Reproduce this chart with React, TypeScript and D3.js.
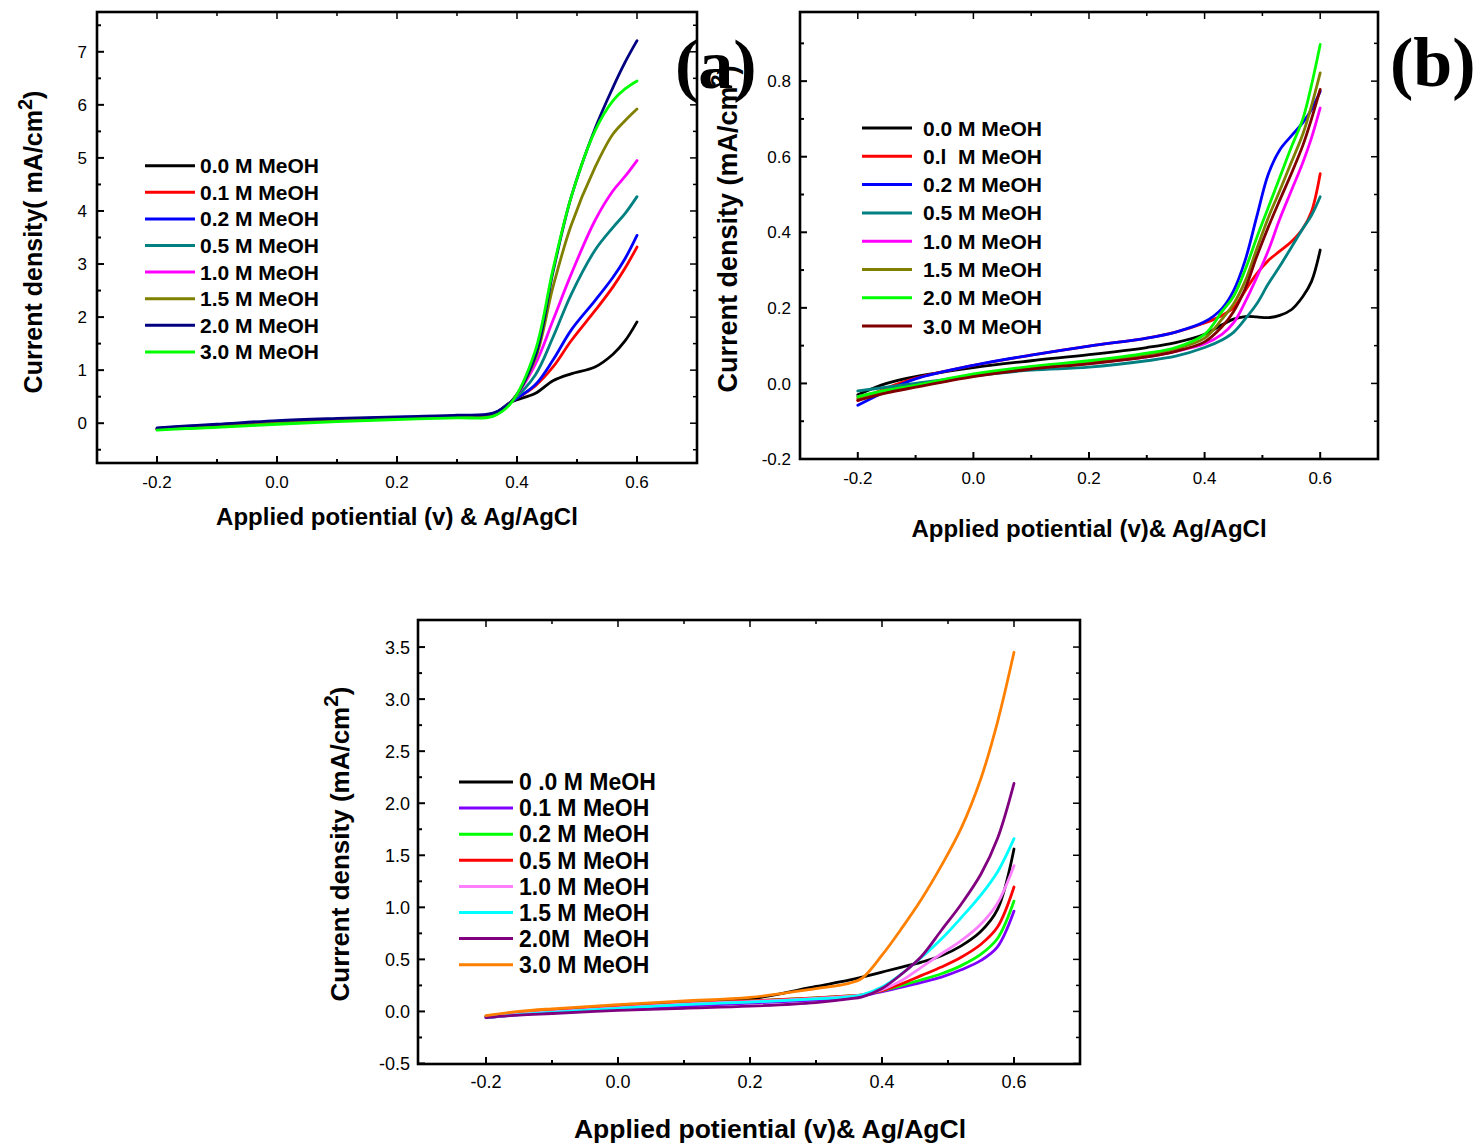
import React from 'react';
import * as d3 from 'd3';

const FONT = '"Liberation Sans", Arial, Helvetica, sans-serif';
const SERIF = '"Liberation Serif", "Times New Roman", serif';

// ---------- panel (a) ----------
const aPotential = [-0.2, -0.15, -0.1, 0.0, 0.1, 0.2, 0.3, 0.36, 0.39, 0.43, 0.46, 0.49, 0.53, 0.56, 0.58, 0.6];
const aLabels = ['0.0 M MeOH', '0.1 M MeOH', '0.2 M MeOH', '0.5 M MeOH', '1.0 M MeOH', '1.5 M MeOH', '2.0 M MeOH', '3.0 M MeOH'];
const aColors = ['#000000', '#ff0000', '#0000ff', '#008080', '#ff00ff', '#808000', '#000080', '#00ff00'];
const a00 = [-0.11, -0.07, -0.04, 0.02, 0.06, 0.1, 0.13, 0.17, 0.4, 0.56, 0.8, 0.93, 1.06, 1.3, 1.55, 1.91];
const a01 = [-0.11, -0.07, -0.04, 0.02, 0.06, 0.1, 0.13, 0.17, 0.4, 0.7, 1.06, 1.55, 2.12, 2.57, 2.92, 3.32];
const a02 = [-0.1, -0.06, -0.03, 0.03, 0.07, 0.11, 0.14, 0.18, 0.4, 0.72, 1.19, 1.75, 2.31, 2.75, 3.1, 3.54];
const a05 = [-0.11, -0.07, -0.04, 0.02, 0.06, 0.1, 0.13, 0.17, 0.4, 0.9, 1.62, 2.42, 3.26, 3.69, 3.95, 4.27];
const a10 = [-0.11, -0.07, -0.04, 0.02, 0.06, 0.1, 0.13, 0.16, 0.4, 1.1, 1.94, 2.8, 3.82, 4.38, 4.65, 4.95];
const a15 = [-0.12, -0.08, -0.05, 0.01, 0.05, 0.09, 0.12, 0.15, 0.4, 1.2, 2.57, 3.72, 4.82, 5.45, 5.7, 5.92];
const a20 = [-0.09, -0.05, -0.02, 0.05, 0.09, 0.12, 0.15, 0.19, 0.4, 1.25, 2.85, 4.25, 5.55, 6.33, 6.8, 7.21];
const a30 = [-0.13, -0.1, -0.08, -0.02, 0.03, 0.07, 0.1, 0.13, 0.38, 1.35, 2.9, 4.25, 5.51, 6.08, 6.3, 6.45];
const aXTicks = [-0.2, 0.0, 0.2, 0.4, 0.6];
const aXMinor = [-0.1, 0.1, 0.3, 0.5];
const aYTicks = [0, 1, 2, 3, 4, 5, 6, 7];
const aYMinor = [-0.5, 0.5, 1.5, 2.5, 3.5, 4.5, 5.5, 6.5, 7.5];

// ---------- panel (b) ----------
const bPotential = [-0.2, -0.15, -0.1, 0.0, 0.1, 0.2, 0.3, 0.35, 0.4, 0.43, 0.45, 0.47, 0.49, 0.51, 0.53, 0.55, 0.57, 0.585, 0.6];
const bLabels = ['0.0 M MeOH', '0.l  M MeOH', '0.2 M MeOH', '0.5 M MeOH', '1.0 M MeOH', '1.5 M MeOH', '2.0 M MeOH', '3.0 M MeOH'];
const bColors = ['#000000', '#ff0000', '#0000ff', '#008080', '#ff00ff', '#808000', '#00ff00', '#800000'];
const b00 = [-0.03, 0.0, 0.018, 0.042, 0.06, 0.076, 0.095, 0.108, 0.13, 0.155, 0.17, 0.177, 0.176, 0.174, 0.18, 0.195, 0.23, 0.27, 0.353];
const b01 = [-0.045, -0.012, 0.014, 0.048, 0.075, 0.099, 0.12, 0.136, 0.16, 0.18, 0.2, 0.245, 0.29, 0.325, 0.35, 0.375, 0.41, 0.455, 0.555];
const b02 = [-0.058, -0.02, 0.012, 0.048, 0.075, 0.099, 0.12, 0.136, 0.163, 0.198, 0.245, 0.325, 0.44, 0.553, 0.618, 0.655, 0.69, 0.725, 0.773];
const b05 = [-0.02, -0.01, 0.0, 0.02, 0.035, 0.043, 0.06, 0.072, 0.095, 0.115, 0.135, 0.17, 0.21, 0.263, 0.31, 0.36, 0.41, 0.445, 0.494];
const b10 = [-0.035, -0.02, -0.008, 0.02, 0.04, 0.053, 0.07, 0.085, 0.105, 0.13, 0.16, 0.215, 0.28, 0.351, 0.435, 0.51, 0.585, 0.65, 0.729];
const b15 = [-0.04, -0.02, -0.006, 0.022, 0.043, 0.058, 0.077, 0.092, 0.12, 0.17, 0.21, 0.27, 0.355, 0.438, 0.51, 0.585, 0.66, 0.735, 0.822];
const b20 = [-0.035, -0.018, -0.005, 0.025, 0.045, 0.06, 0.08, 0.095, 0.13, 0.19, 0.23, 0.3, 0.385, 0.465, 0.545, 0.625, 0.7, 0.79, 0.897];
const b30 = [-0.045, -0.025, -0.01, 0.018, 0.038, 0.052, 0.07, 0.085, 0.11, 0.15, 0.19, 0.25, 0.335, 0.413, 0.485, 0.555, 0.63, 0.7, 0.778];
const bXTicks = [-0.2, 0.0, 0.2, 0.4, 0.6];
const bXMinor = [-0.1, 0.1, 0.3, 0.5];
const bYTicks = [-0.2, 0.0, 0.2, 0.4, 0.6, 0.8];
const bYMinor = [-0.1, 0.1, 0.3, 0.5, 0.7, 0.9];

// ---------- panel (c) ----------
const cPotential = [-0.2, -0.15, -0.1, 0.0, 0.1, 0.2, 0.3, 0.35, 0.37, 0.4, 0.43, 0.46, 0.49, 0.52, 0.55, 0.575, 0.6];
const cLabels = ['0 .0 M MeOH', '0.1 M MeOH', '0.2 M MeOH', '0.5 M MeOH', '1.0 M MeOH', '1.5 M MeOH', '2.0M  MeOH', '3.0 M MeOH'];
const cColors = ['#000000', '#8000ff', '#00ff00', '#ff0000', '#ff80ff', '#00ffff', '#800080', '#ff8000'];
const c00 = [-0.045, -0.01, 0.01, 0.05, 0.08, 0.12, 0.24, 0.3, 0.33, 0.378, 0.426, 0.474, 0.535, 0.63, 0.77, 0.98, 1.56];
const c01 = [-0.06, -0.03, -0.01, 0.02, 0.05, 0.08, 0.11, 0.13, 0.15, 0.19, 0.234, 0.28, 0.33, 0.4, 0.49, 0.62, 0.964];
const c02 = [-0.05, -0.02, 0.0, 0.04, 0.075, 0.1, 0.13, 0.15, 0.16, 0.2, 0.25, 0.304, 0.362, 0.44, 0.55, 0.7, 1.06];
const c05 = [-0.05, -0.02, 0.0, 0.04, 0.075, 0.1, 0.13, 0.15, 0.16, 0.2, 0.266, 0.346, 0.426, 0.52, 0.645, 0.81, 1.195];
const c10 = [-0.055, -0.025, -0.005, 0.035, 0.07, 0.095, 0.125, 0.145, 0.16, 0.21, 0.298, 0.426, 0.554, 0.68, 0.84, 1.04, 1.4];
const c15 = [-0.06, -0.03, -0.01, 0.03, 0.065, 0.09, 0.12, 0.14, 0.16, 0.234, 0.362, 0.52, 0.695, 0.9, 1.12, 1.34, 1.66];
const c20 = [-0.06, -0.035, -0.02, 0.01, 0.03, 0.05, 0.085, 0.12, 0.14, 0.22, 0.36, 0.53, 0.78, 1.03, 1.32, 1.66, 2.19];
const c30 = [-0.04, 0.0, 0.025, 0.065, 0.1, 0.135, 0.22, 0.27, 0.32, 0.54, 0.8, 1.08, 1.4, 1.76, 2.24, 2.78, 3.45];
const cXTicks = [-0.2, 0.0, 0.2, 0.4, 0.6];
const cXMinor = [-0.1, 0.1, 0.3, 0.5];
const cYTicks = [-0.5, 0.0, 0.5, 1.0, 1.5, 2.0, 2.5, 3.0, 3.5];
const cYMinor = [-0.25, 0.25, 0.75, 1.25, 1.75, 2.25, 2.75, 3.25];

const xTitleAB = 'Applied potiential (v) & Ag/AgCl';
const xTitleBC = 'Applied potiential (v)& Ag/AgCl';

type PanelProps = {
  box: { left: number; right: number; top: number; bottom: number };
  xDomain: [number, number];
  yDomain: [number, number];
  xs: number[];
  series: number[][];
  colors: string[];
  labels: string[];
  xTicks: number[];
  xMinor: number[];
  yTicks: number[];
  yMinor: number[];
  yFmt: (v: number) => string;
  tickSize: number;
  legend: { x1: number; x2: number; tx: number; y0: number; dy: number; size: number };
  xTitle: { text: string; x: number; y: number; size: number };
  yTitle: { pre: string; x: number; y: number; size: number };
  xLabelY: number;
  yLabelX: number;
};

function Panel(p: PanelProps) {
  const { box } = p;
  const x = d3.scaleLinear().domain(p.xDomain).range([box.left, box.right]);
  const y = d3.scaleLinear().domain(p.yDomain).range([box.bottom, box.top]);
  // smooth polarisation curves
  const line = d3.line<[number, number]>()
    .x(d => x(d[0]))
    .y(d => y(d[1]))
    .curve(d3.curveCatmullRom.alpha(0.5));

  const major = 7;
  const minor = 4;

  return (
    <g>
      {p.series.map((vals, i) => (
        <path key={i}
          d={line(p.xs.map((v, k) => [v, vals[k]] as [number, number])) || ''}
          fill="none" stroke={p.colors[i]} strokeWidth={2.8} strokeLinejoin="round" strokeLinecap="round" />
      ))}

      {/* frame */}
      <rect x={box.left} y={box.top} width={box.right - box.left} height={box.bottom - box.top}
        fill="none" stroke="#000" strokeWidth={2.6} />

      {/* x ticks, mirrored on top */}
      {p.xTicks.map(t => (
        <g key={'xt' + t}>
          <line x1={x(t)} x2={x(t)} y1={box.bottom} y2={box.bottom - major} stroke="#000" strokeWidth={2} />
          <line x1={x(t)} x2={x(t)} y1={box.top} y2={box.top + major} stroke="#000" strokeWidth={1.5} />
          <text x={x(t)} y={p.xLabelY} textAnchor="middle" fontSize={p.tickSize} fontFamily={FONT}>{t.toFixed(1)}</text>
        </g>
      ))}
      {p.xMinor.map(t => (
        <g key={'xm' + t}>
          <line x1={x(t)} x2={x(t)} y1={box.bottom} y2={box.bottom - minor} stroke="#000" strokeWidth={2} />
          <line x1={x(t)} x2={x(t)} y1={box.top} y2={box.top + minor} stroke="#000" strokeWidth={1.5} />
        </g>
      ))}

      {/* y ticks, mirrored on right */}
      {p.yTicks.map(t => (
        <g key={'yt' + t}>
          <line x1={box.left} x2={box.left + major} y1={y(t)} y2={y(t)} stroke="#000" strokeWidth={2} />
          <line x1={box.right} x2={box.right - major} y1={y(t)} y2={y(t)} stroke="#000" strokeWidth={1.5} />
          <text x={p.yLabelX} y={y(t) + p.tickSize * 0.36} textAnchor="end" fontSize={p.tickSize} fontFamily={FONT}>{p.yFmt(t)}</text>
        </g>
      ))}
      {p.yMinor.map(t => (
        <g key={'ym' + t}>
          <line x1={box.left} x2={box.left + minor} y1={y(t)} y2={y(t)} stroke="#000" strokeWidth={2} />
          <line x1={box.right} x2={box.right - minor} y1={y(t)} y2={y(t)} stroke="#000" strokeWidth={1.5} />
        </g>
      ))}

      {/* legend */}
      {p.labels.map((lab, i) => {
        const ly = p.legend.y0 + i * p.legend.dy;
        return (
          <g key={'lg' + i}>
            <line x1={p.legend.x1} x2={p.legend.x2} y1={ly} y2={ly} stroke={p.colors[i]} strokeWidth={3} />
            <text x={p.legend.tx} y={ly + p.legend.size * 0.36} fontSize={p.legend.size} fontWeight="bold"
              fontFamily={FONT} style={{ whiteSpace: 'pre' }}>{lab}</text>
          </g>
        );
      })}

      {/* axis titles */}
      <text x={p.xTitle.x} y={p.xTitle.y} textAnchor="middle" fontSize={p.xTitle.size} fontWeight="bold"
        fontFamily={FONT}>{p.xTitle.text}</text>
      <text transform={`translate(${p.yTitle.x},${p.yTitle.y}) rotate(-90)`} textAnchor="middle"
        fontSize={p.yTitle.size} fontWeight="bold" fontFamily={FONT} style={{ whiteSpace: 'pre' }}>
        {p.yTitle.pre}
        <tspan fontSize={p.yTitle.size * 0.8} dy={-p.yTitle.size * 0.42}>2</tspan>
        <tspan dy={p.yTitle.size * 0.42}>)</tspan>
      </text>
    </g>
  );
}

export default function App() {
  return (
    <svg width={1482} height={1146} style={{ position: 'absolute', left: 0, top: 0, background: '#fff' }}>
      <rect x={0} y={0} width={1482} height={1146} fill="#fff" />

      <Panel
        box={{ left: 97, right: 697, top: 12, bottom: 463 }}
        xDomain={[-0.3, 0.7]} yDomain={[-0.75, 7.75]}
        xs={aPotential} series={[a00, a01, a02, a05, a10, a15, a20, a30]}
        colors={aColors} labels={aLabels}
        xTicks={aXTicks} xMinor={aXMinor} yTicks={aYTicks} yMinor={aYMinor}
        yFmt={v => String(v)} tickSize={17}
        legend={{ x1: 145, x2: 195, tx: 200, y0: 165.7, dy: 26.6, size: 21 }}
        xTitle={{ text: xTitleAB, x: 397, y: 525, size: 24 }}
        yTitle={{ pre: 'Current density( mA/cm', x: 42, y: 242, size: 25 }}
        xLabelY={488} yLabelX={87}
      />

      <Panel
        box={{ left: 800, right: 1378, top: 12, bottom: 459 }}
        xDomain={[-0.3, 0.7]} yDomain={[-0.2, 0.983]}
        xs={bPotential} series={[b00, b01, b02, b05, b10, b15, b20, b30]}
        colors={bColors} labels={bLabels}
        xTicks={bXTicks} xMinor={bXMinor} yTicks={bYTicks} yMinor={bYMinor}
        yFmt={v => v.toFixed(1)} tickSize={17}
        legend={{ x1: 862, x2: 912, tx: 923, y0: 128, dy: 28.3, size: 21 }}
        xTitle={{ text: xTitleBC, x: 1089, y: 537, size: 24 }}
        yTitle={{ pre: 'Current density (mA/cm', x: 737, y: 229, size: 27 }}
        xLabelY={484} yLabelX={791}
      />

      <Panel
        box={{ left: 418, right: 1080, top: 620, bottom: 1064 }}
        xDomain={[-0.303, 0.7]} yDomain={[-0.505, 3.76]}
        xs={cPotential} series={[c00, c01, c02, c05, c10, c15, c20, c30]}
        colors={cColors} labels={cLabels}
        xTicks={cXTicks} xMinor={cXMinor} yTicks={cYTicks} yMinor={cYMinor}
        yFmt={v => v.toFixed(1)} tickSize={18}
        legend={{ x1: 459, x2: 513, tx: 519, y0: 782, dy: 26.1, size: 23 }}
        xTitle={{ text: xTitleBC, x: 770, y: 1138, size: 26.5 }}
        yTitle={{ pre: 'Current density (mA/cm', x: 349, y: 844, size: 26 }}
        xLabelY={1088} yLabelX={410}
      />

      {/* panel letters */}
      <text x={675} y={88} fontSize={70} fontWeight="bold" fontFamily={SERIF}>(a)</text>
      <text x={1390} y={86} fontSize={70} fontWeight="bold" fontFamily={SERIF}>(b)</text>
    </svg>
  );
}
